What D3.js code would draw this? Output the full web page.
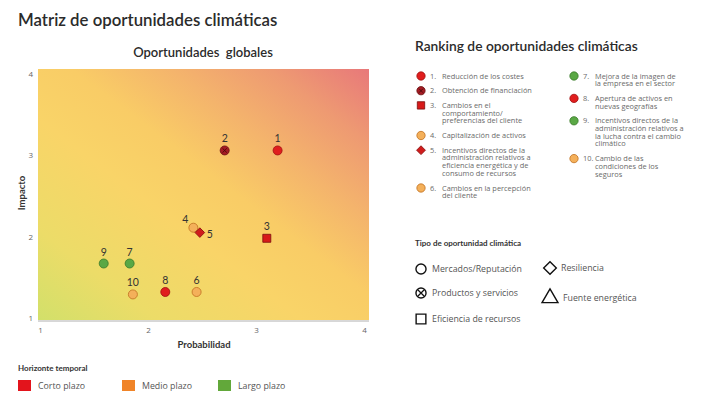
<!DOCTYPE html>
<html>
<head>
<meta charset="utf-8">
<script src="https://cdn.jsdelivr.net/npm/d3@7"></script>
<style>
  html, body { margin: 0; padding: 0; background: #fff; }
  svg { display: block; font-family: Lato, "Open Sans", sans-serif; }
  .small { font-family: "Open Sans", sans-serif; }
</style>
</head>
<body>
<svg id="chart" width="725" height="394"></svg>
<script>
// Opportunity data
const ids = [1, 2, 3, 4, 5, 6, 7, 8, 9, 10];
const probabilidad = [3.20, 2.71, 3.10, 2.42, 2.48, 2.45, 1.83, 2.16, 1.59, 1.86];
const impacto = [3.06, 3.06, 1.98, 2.11, 2.05, 1.32, 1.67, 1.32, 1.67, 1.29];
const tipo = ["mercados", "productos", "eficiencia", "mercados", "resiliencia", "mercados", "mercados", "mercados", "mercados", "mercados"];
const pointFill = ["#e01e1e", "#a51c24", "#d71a1a", "#f4b05a", "#d01c1c", "#f4b05a", "#5aa845", "#e01e1e", "#5aa845", "#f4b05a"];
const pointStroke = ["#a01010", "#6a1010", "#7a0e0e", "#c07020", "#8a0e0e", "#c07020", "#3a7a2a", "#a01010", "#3a7a2a", "#c07020"];
const nombres = [
  ["Reducción de los costes"],
  ["Obtención de financiación"],
  ["Cambios en el", "comportamiento/", "preferencias del cliente"],
  ["Capitalización de activos"],
  ["Incentivos directos de la", "administración relativos a", "eficiencia energética y de", "consumo de recursos"],
  ["Cambios en la percepción", "del cliente"],
  ["Mejora de la imagen de", "la empresa en el sector"],
  ["Apertura de activos en", "nuevas geografías"],
  ["Incentivos directos de la", "administración relativos a", "la lucha contra el cambio", "climático"],
  ["Cambio de las", "condiciones de los", "seguros"]
];
const xTicks = [1, 2, 3, 4];
const yTicks = [1, 2, 3, 4];
const tiposOportunidad = ["Mercados/Reputación", "Resiliencia", "Productos y servicios", "Fuente energética", "Eficiencia de recursos"];
const horizontes = ["Corto plazo", "Medio plazo", "Largo plazo"];
const horizonteColores = ["#e3141c", "#f08428", "#62a83a"];

const svg = d3.select("#chart");

// Titles
svg.append("text").attr("x", 18).attr("y", 26)
  .attr("font-size", 16.8).attr("font-weight", 600).attr("fill", "#2b2b2b")
  .text("Matriz de oportunidades climáticas");
svg.append("text").attr("x", 203).attr("y", 57).attr("text-anchor", "middle")
  .attr("font-size", 13).attr("font-weight", 600).attr("fill", "#2b2b2b")
  .attr("xml:space", "preserve")
  .text("Oportunidades  globales");

// Plot area
const plot = { left: 38, right: 369, top: 69, bottom: 320 };
const x = d3.scaleLinear().domain([1, 4]).range([40, 364]);
const y = d3.scaleLinear().domain([1, 4]).range([318, 74]);

const defs = svg.append("defs");
const grad = defs.append("linearGradient").attr("id", "riskGrad")
  .attr("x1", 0).attr("y1", 1).attr("x2", 1).attr("y2", 0);
[[0, "#d2e06a"], [0.18, "#ecdc68"], [0.4, "#f9d468"], [0.55, "#f9cc66"],
 [0.7, "#f4b46c"], [0.85, "#ee9a72"], [1, "#e8787a"]]
  .forEach(([o, c]) => grad.append("stop").attr("offset", o).attr("stop-color", c));

svg.append("rect")
  .attr("x", plot.left).attr("y", plot.top)
  .attr("width", plot.right - plot.left).attr("height", plot.bottom - plot.top)
  .attr("fill", "url(#riskGrad)");

// Axes
const xAxis = svg.append("g").attr("transform", `translate(0,${plot.bottom + 1})`)
  .call(d3.axisBottom(x).tickValues(xTicks).tickSize(0).tickPadding(6).tickFormat(d3.format("d")));
xAxis.select(".domain").attr("d", `M${plot.left},0H${plot.right}`).attr("stroke", "#b0b0b0");
xAxis.selectAll("text").attr("font-size", 8).attr("fill", "#666").attr("font-family", "Open Sans, sans-serif");

const yAxis = svg.append("g").attr("transform", `translate(${plot.left - 4},0)`)
  .call(d3.axisLeft(y).tickValues(yTicks).tickSize(0).tickPadding(1).tickFormat(d3.format("d")));
yAxis.select(".domain").remove();
yAxis.selectAll("text").attr("font-size", 8).attr("fill", "#666").attr("font-family", "Open Sans, sans-serif");

svg.append("text").attr("x", 204).attr("y", 348).attr("text-anchor", "middle")
  .attr("font-size", 9.5).attr("font-weight", 700).attr("fill", "#333").text("Probabilidad");
svg.append("text").attr("transform", "translate(25,193) rotate(-90)").attr("text-anchor", "middle")
  .attr("font-size", 9.5).attr("font-weight", 700).attr("fill", "#333").text("Impacto");

// Marker shapes
const shapeOf = {
  mercados: d3.symbolCircle,
  productos: d3.symbolCircle,
  eficiencia: d3.symbolSquare,
  resiliencia: d3.symbolSquare
};
const sizeOf = { mercados: 64, productos: 64, eficiencia: 64, resiliencia: 46 };

function drawMarker(g, i, cx, cy, scale) {
  const t = tipo[i];
  const rot = t === "resiliencia" ? " rotate(45)" : "";
  g.append("path")
    .attr("transform", `translate(${cx},${cy})${rot}`)
    .attr("d", d3.symbol().type(shapeOf[t]).size(sizeOf[t] * scale)())
    .attr("fill", pointFill[i]).attr("stroke", pointStroke[i]).attr("stroke-width", 0.8);
  if (t === "productos") {
    const r = 2.2 * Math.sqrt(scale);
    g.append("path").attr("transform", `translate(${cx},${cy})`)
      .attr("d", `M${-r},${-r}L${r},${r}M${-r},${r}L${r},${-r}`)
      .attr("stroke", "#4a0a0a").attr("stroke-width", 0.9);
  }
}

const pts = svg.append("g");
ids.forEach((id, i) => drawMarker(pts, i, x(probabilidad[i]), y(impacto[i]), 1));

// Point labels
const labelOffset = { 4: [-8, -5], 5: [10, 5] };
ids.forEach((id, i) => {
  const off = labelOffset[id] || [0, -8];
  svg.append("text")
    .attr("x", x(probabilidad[i]) + off[0])
    .attr("y", y(impacto[i]) + off[1])
    .attr("text-anchor", "middle")
    .attr("font-size", 10.5).attr("fill", "#333")
    .text(id);
});

// Ranking legend
svg.append("text").attr("x", 415).attr("y", 51)
  .attr("font-size", 13.8).attr("font-weight", 600).attr("fill", "#2b2b2b")
  .text("Ranking de oportunidades climáticas");

const lineH = 7.7, rowGap = 7;
const cols = [{ mx: 421, nx: 430, tx: 442, y0: 76, items: [0, 1, 2, 3, 4, 5] },
              { mx: 574, nx: 583, tx: 595, y0: 76, items: [6, 7, 8, 9] }];
const rank = svg.append("g").attr("class", "small");
cols.forEach(col => {
  let cy = col.y0;
  col.items.forEach(i => {
    drawMarker(rank, i, col.mx, cy, 0.85);
    rank.append("text").attr("x", col.nx).attr("y", cy + 2.5)
      .attr("font-size", 7.4).attr("fill", "#6a6a6a").text(ids[i] + ".");
    // each description is one text block, wrapped into lines
    const block = rank.append("text").attr("x", col.tx).attr("y", cy + 2.5)
      .attr("font-size", 7.4).attr("fill", "#6a6a6a");
    nombres[i].forEach((line, k) => {
      block.append("tspan").attr("x", col.tx).attr("dy", k === 0 ? 0 : lineH).text(line);
    });
    cy += nombres[i].length * lineH + rowGap;
  });
});

// Opportunity type legend
svg.append("text").attr("x", 415).attr("y", 246)
  .attr("font-size", 8).attr("font-weight", 700).attr("fill", "#333")
  .text("Tipo de oportunidad climática");

const tipoPos = [[421, 269], [550, 268], [421, 293], [550, 298], [421, 319]];
const tipoSym = [d3.symbolCircle, d3.symbolSquare, d3.symbolCircle, d3.symbolTriangle, d3.symbolSquare];
const tipoSize = [80, 80, 80, 110, 95];
const tg = svg.append("g").attr("class", "small");
tiposOportunidad.forEach((name, k) => {
  const [mx, my] = tipoPos[k];
  const rot = k === 1 ? " rotate(45)" : "";
  tg.append("path").attr("transform", `translate(${mx},${my})${rot}`)
    .attr("d", d3.symbol().type(tipoSym[k]).size(tipoSize[k])())
    .attr("fill", "none").attr("stroke", "#111").attr("stroke-width", 1.4);
  if (k === 2) {
    tg.append("path").attr("transform", `translate(${mx},${my})`)
      .attr("d", "M-3,-3L3,3M-3,3L3,-3").attr("stroke", "#111").attr("stroke-width", 1.3);
  }
  tg.append("text").attr("x", mx + (k === 3 ? 13 : 11)).attr("y", my + 3)
    .attr("font-size", 8.8).attr("fill", "#555").text(name);
});

// Time horizon legend
svg.append("text").attr("x", 18).attr("y", 371)
  .attr("font-size", 8).attr("font-weight", 700).attr("fill", "#333")
  .text("Horizonte temporal");
const hx = [18, 122, 218];
horizontes.forEach((h, k) => {
  svg.append("rect").attr("x", hx[k]).attr("y", 380).attr("width", 13).attr("height", 11)
    .attr("fill", horizonteColores[k]);
  svg.append("text").attr("class", "small").attr("x", hx[k] + 20).attr("y", 389)
    .attr("font-size", 8.8).attr("fill", "#555").text(h);
});
</script>
</body>
</html>
